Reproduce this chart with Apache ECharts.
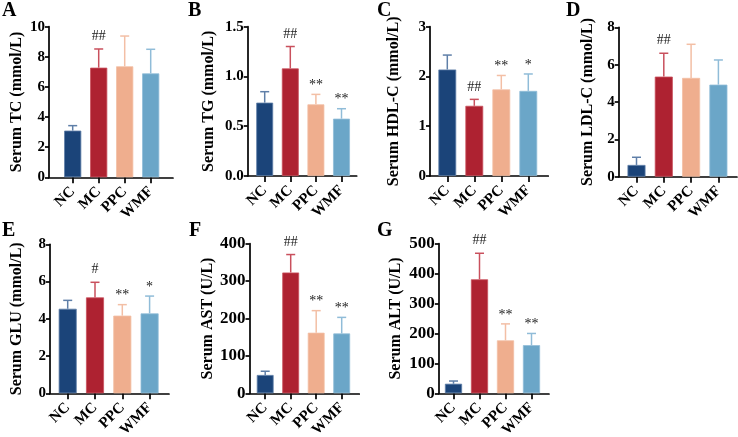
<!DOCTYPE html>
<html>
<head>
<meta charset="utf-8">
<script src="https://cdn.jsdelivr.net/npm/echarts@6/dist/echarts.min.js"></script>
<style>html,body{margin:0;padding:0;background:#fff}#c{width:738px;height:437px}</style>
</head>
<body>
<div id="c"></div>
<script>
// ---- data ----
const categories = ['NC', 'MC', 'PPC', 'WMF'];
const colors = ['#1b4479', '#ae2231', '#efae8e', '#6ba6c8'];
const errColors = ['#5f7fa8', '#c9505d', '#f3bfa5', '#90bcd8'];

const tcMean = [3.10, 7.28, 7.37, 6.90];
const tcSD = [0.33, 1.24, 2.01, 1.60];
const tcMarks = ['', '##', '', ''];

const tgMean = [0.737, 1.081, 0.72, 0.576];
const tgSD = [0.11, 0.22, 0.10, 0.10];
const tgMarks = ['', '##', '**', '**'];

const hdlMean = [2.14, 1.41, 1.74, 1.71];
const hdlSD = [0.29, 0.13, 0.28, 0.34];
const hdlMarks = ['', '##', '**', '*'];

const ldlMean = [0.63, 5.36, 5.29, 4.93];
const ldlSD = [0.41, 1.25, 1.80, 1.32];
const ldlMarks = ['', '##', '', ''];

const gluMean = [4.54, 5.15, 4.17, 4.29];
const gluSD = [0.45, 0.81, 0.59, 0.93];
const gluMarks = ['', '#', '**', '*'];

const astMean = [49, 323, 162, 160];
const astSD = [10, 48, 59, 43];
const astMarks = ['', '##', '**', '**'];

const altMean = [32, 381, 177, 161];
const altSD = [9, 87, 55, 39];
const altMarks = ['', '##', '**', '**'];

const yTitles = ['Serum TC (mmol/L)', 'Serum TG (mmol/L)', 'Serum HDL-C (mmol/L)', 'Serum LDL-C (mmol/L)',
  'Serum GLU (mmol/L)', 'Serum AST (U/L)', 'Serum ALT (U/L)'];
const panelLetters = ['A', 'B', 'C', 'D', 'E', 'F', 'G'];
const yMax = [10, 1.5, 3, 8, 8, 400, 500];
const yInterval = [2, 0.5, 1, 2, 2, 100, 100];

// ---- layout (pixels) ----
const layout = [
  {ax: 49, top: 26.7, bot: 177.3, end: 173, first: 72.7, sp: 26, gap: 24, lx: 2, ly: 11, tf: 15},
  {ax: 247.7, top: 26.7, bot: 176, end: 356.7, first: 264.7, sp: 25.6, gap: 31, lx: 188, ly: 11, tf: 15},
  {ax: 430, top: 26.7, bot: 176, end: 548.3, first: 447.3, sp: 27, gap: 28.5, lx: 377, ly: 11, tf: 15},
  {ax: 618.7, top: 27.3, bot: 176.7, end: 737, first: 636.5, sp: 27.3, gap: 22.5, lx: 566, ly: 11, tf: 15},
  {ax: 50, top: 244.3, bot: 393.3, end: 169, first: 67.7, sp: 27.3, gap: 25.5, lx: 2, ly: 231, tf: 15},
  {ax: 249.5, top: 243.7, bot: 393.3, end: 359.3, first: 265.2, sp: 25.5, gap: 34, lx: 189, ly: 231, tf: 17},
  {ax: 438.8, top: 243.7, bot: 393.3, end: 549, first: 453.5, sp: 26, gap: 35, lx: 377, ly: 231, tf: 17}
];

const means = [tcMean, tgMean, hdlMean, ldlMean, gluMean, astMean, altMean];
const sds = [tcSD, tgSD, hdlSD, ldlSD, gluSD, astSD, altSD];
const marks = [tcMarks, tgMarks, hdlMarks, ldlMarks, gluMarks, astMarks, altMarks];

const FONT = "'Liberation Serif', 'Times New Roman', serif";

const grid = [], xAxis = [], yAxis = [], series = [], graphic = [];

layout.forEach((L, i) => {
  const outer = 2 * i, inner = 2 * i + 1;
  grid.push({left: L.ax, top: L.top, width: L.end - L.ax, height: L.bot - L.top, containLabel: false, outerBoundsMode: 'none'});
  grid.push({left: L.first - L.sp / 2, top: L.top, width: 4 * L.sp, height: L.bot - L.top, containLabel: false, outerBoundsMode: 'none'});

  xAxis.push({type: 'value', gridIndex: outer, min: 0, max: 1,
    axisLine: {show: true, onZero: false, lineStyle: {color: '#000', width: 1.7}},
    axisTick: {show: false}, axisLabel: {show: false}, splitLine: {show: false}});
  xAxis.push({type: 'category', gridIndex: inner, data: categories,
    axisLine: {show: false},
    axisTick: {show: true, alignWithLabel: true, interval: 0, length: 6, lineStyle: {color: '#000', width: 1.7}},
    axisLabel: {rotate: 45, interval: 0, hideOverlap: false, margin: 12, color: '#000', fontFamily: FONT, fontWeight: 'bold', fontSize: 15},
    splitLine: {show: false}});

  yAxis.push({type: 'value', gridIndex: outer, min: 0, max: yMax[i], interval: yInterval[i],
    name: yTitles[i], nameLocation: 'middle', nameRotate: 90, nameGap: L.gap,
    nameTextStyle: {color: '#000', fontFamily: FONT, fontWeight: 'bold', fontSize: 16},
    axisLine: {show: true, lineStyle: {color: '#000', width: 1.7}},
    axisTick: {show: true, length: 4, lineStyle: {color: '#000', width: 1.7}},
    axisLabel: {margin: 4, color: '#000', fontFamily: FONT, fontWeight: 'bold', fontSize: L.tf,
      formatter: v => (yInterval[i] < 1 ? v.toFixed(1) : String(v))},
    splitLine: {show: false}});
  yAxis.push({type: 'value', gridIndex: inner, min: 0, max: yMax[i], show: false, splitLine: {show: false}});

  series.push({type: 'bar', xAxisIndex: inner, yAxisIndex: inner, barWidth: '66%',
    data: means[i].map((v, k) => ({value: v, itemStyle: {color: colors[k], borderColor: errColors[k], borderWidth: 0.8}})),
    silent: true, animation: false});

  const errData = means[i].map((v, k) => [k, v, v + sds[i][k]]);
  series.push({type: 'custom', xAxisIndex: inner, yAxisIndex: inner, data: errData, silent: true, animation: false, z: 5,
    renderItem: (params, api) => {
      const k = api.value(0);
      const base = api.coord([k, api.value(1)]);
      const top = api.coord([k, api.value(2)]);
      const mk = marks[i][k];
      const col = errColors[k];
      const children = [
        {type: 'line', shape: {x1: base[0], y1: base[1], x2: top[0], y2: top[1]}, style: {stroke: col, lineWidth: 1.5}},
        {type: 'line', shape: {x1: top[0] - 4.5, y1: top[1], x2: top[0] + 4.5, y2: top[1]}, style: {stroke: col, lineWidth: 1.5}}
      ];
      if (mk) {
        const isStar = mk.indexOf('*') >= 0;
        children.push({type: 'text', x: top[0], y: top[1] - (isStar ? 9 : 12.5),
          style: {text: mk, fill: '#222', font: '14px ' + FONT, align: 'center', verticalAlign: 'middle'}});
      }
      return {type: 'group', children};
    }});

  graphic.push({type: 'text', left: L.lx, top: L.ly - 10,
    style: {text: panelLetters[i], fill: '#000', font: 'bold 20px ' + FONT}});
});

const chart = echarts.init(document.getElementById('c'), null, {renderer: 'canvas'});
chart.setOption({animation: false, backgroundColor: '#fff', grid, xAxis, yAxis, series, graphic});
</script>
</body>
</html>
